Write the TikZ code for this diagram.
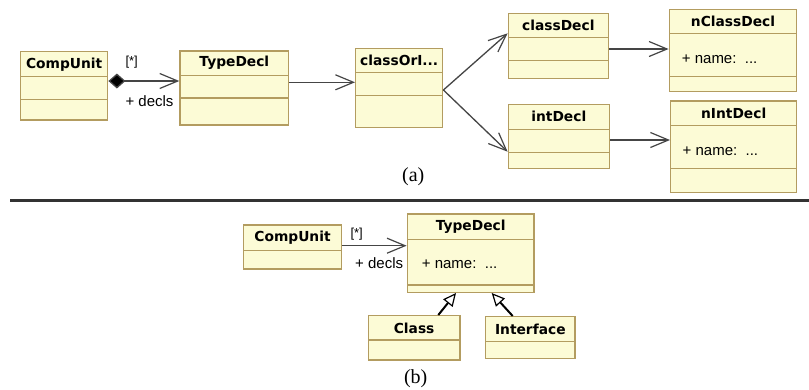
\documentclass[tikz,border=0pt]{standalone}
\usepackage{fontspec}
\usetikzlibrary{arrows.meta,fit}
\newfontfamily\clsfont{DejaVu Sans}
\newfontfamily\attrfont{Liberation Sans}
\newfontfamily\capfont{Liberation Serif}
\definecolor{boxfill}{HTML}{FCFBD6}
\definecolor{boxline}{HTML}{B39C60}
\definecolor{wire}{HTML}{454545}
\tikzset{
  classbox/.style={draw=boxline, fill=boxfill, line width=1.4pt, inner sep=0pt},
  divider/.style={draw=boxline, line width=1.2pt},
  clsname/.style={font=\clsfont\bfseries\fontsize{13.8}{14}\selectfont, inner sep=0pt},
  attr/.style={font=\attrfont\fontsize{15}{16}\selectfont, inner sep=0pt, anchor=west},
  rolelbl/.style={font=\attrfont\fontsize{15}{16}\selectfont, inner sep=0pt},
  multlbl/.style={font=\attrfont\fontsize{13}{14}\selectfont, inner sep=0pt},
  caption/.style={font=\capfont\fontsize{20}{22}\selectfont, inner sep=0pt},
  barb/.tip={Straight Barb[length=18pt, width=15pt, line width=1.2pt]},
  assoc/.style={draw=wire, line width=1.3pt, -barb},
  compos/.style={draw=wire, line width=1.3pt, {Diamond[length=17pt, width=15pt, fill=black]}-barb},
  generalize/.style={draw=black, line width=2pt, -{Triangle[open, length=13pt, width=12pt, line width=1.2pt, fill=white]}},
}
% a UML class: name, x1, y1, x2, y2, header bottom, second divider, title
\newcommand\umlclass[8]{%
  \node[classbox, fit={(#2,#3) (#4,#5)}] (#1) {};
  \draw[divider] (#2,#6) -- (#4,#6);
  \ifx&#7&\else\draw[divider] (#2,#7) -- (#4,#7);\fi
  \node[clsname] (#1-t) at ({(#2+#4)/2},{(#3+#6)/2}) {#8};
}
\begin{document}
\begin{tikzpicture}[x=1pt, y=-1pt]
\useasboundingbox (0,0) rectangle (809,389);
\fill[white] (0,0) rectangle (809,389);
\draw[line width=2.6pt, draw=black!80] (10,200.7) -- (809,200.7);

% ---------- (a) ----------
\umlclass{cu}{20.7}{51.7}{107.7}{120}{76.7}{99.3}{CompUnit}
\umlclass{td}{180}{51}{288.7}{125}{75.3}{98}{TypeDecl}
\umlclass{co}{355.7}{48.3}{442.7}{127.3}{72.3}{95.7}{classOrI...}
\umlclass{cd}{508.3}{13.3}{608.3}{78.3}{37.3}{60.7}{classDecl}
\umlclass{id}{508.3}{104.3}{609.3}{168.3}{129.3}{152.3}{intDecl}
\umlclass{ncd}{669.3}{9.3}{796.7}{91.7}{33.3}{76.7}{nClassDecl}
\umlclass{nid}{670.7}{101}{796.7}{192.7}{125.7}{168.3}{nIntDecl}
\node[attr] (ncd-a) at (681.7,59.3) {+ name:\ \ ...};
\node[attr] (nid-a) at (682.5,151.7) {+ name:\ \ ...};

\path[compos] (cu.east |- 0,81) -- (td.west |- 0,81);
\node[multlbl] (m1) at (131.7,61.7) {[*]};
\node[rolelbl] (r1) at (149.5,101) {+ decls};
\path[assoc] (td.east |- 0,82.3) -- (co.west |- 0,82.3);
\coordinate (fork) at (co.east |- 0,90);
\path[assoc] (fork) -- (cd.west |- 0,33.3);
\path[assoc] (fork) -- (id.west |- 0,151.7);
\path[assoc] (cd.east |- 0,49) -- (ncd.west |- 0,49);
\path[assoc] (id.east |- 0,140) -- (nid.west |- 0,140);
\node[caption] (capa) at (413.3,176.7) {(a)};

% ---------- (b) ----------
\umlclass{cu2}{243.3}{225}{341.7}{269}{250.7}{}{CompUnit}
\umlclass{td2}{407.3}{214}{534}{292.3}{239.3}{285}{TypeDecl}
\umlclass{cl}{368.3}{315.7}{460}{360}{340}{}{Class}
\umlclass{it}{485.7}{316.7}{575}{358.3}{341.7}{}{Interface}
\node[attr] (td2-a) at (421.7,264) {+ name:\ \ ...};

\path[assoc] (cu2.east |- 0,245.7) -- (td2.west |- 0,245.7);
\node[multlbl] (m2) at (356.7,234.3) {[*]};
\node[rolelbl] (r2) at (379.2,262.7) {+ decls};
\path[generalize] (cl.north -| 438.3,0) -- (td2.south -| 456,0);
\path[generalize] (it.north -| 512.7,0) -- (td2.south -| 491.7,0);
\node[caption] (capb) at (415.7,379) {(b)};
\end{tikzpicture}
\end{document}
